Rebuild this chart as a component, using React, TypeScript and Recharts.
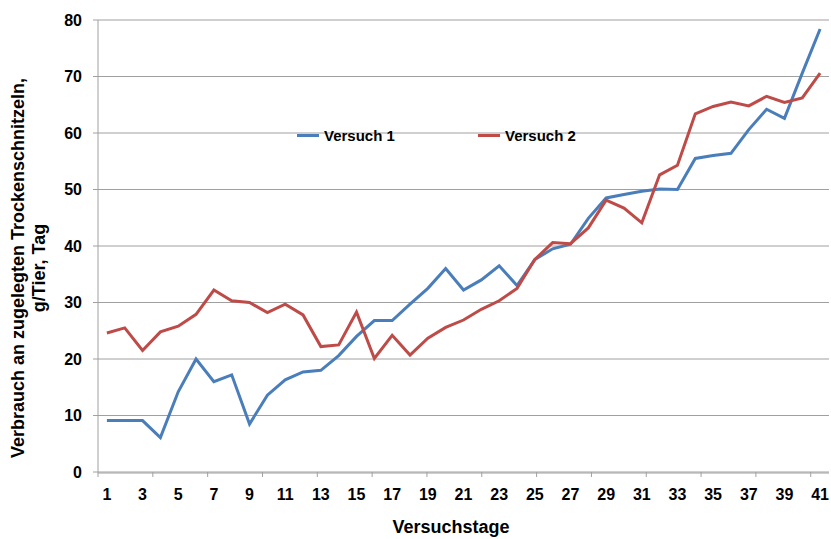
import { CartesianGrid, Legend, Line, LineChart, XAxis, YAxis } from "recharts";

const days = Array.from({ length: 41 }, (_, i) => String(i + 1));

const versuch1 = [
  9.1, 9.1, 9.1, 6.1, 14.2, 20, 16, 17.2, 8.5, 13.6,
  16.3, 17.7, 18, 20.6, 24, 26.8, 26.8, 29.7, 32.5, 36,
  32.2, 34, 36.5, 33, 37.6, 39.5, 40.3, 44.9, 48.5, 49.1,
  49.7, 50.1, 50, 55.5, 56, 56.4, 60.6, 64.2, 62.6, 70.6,
  78.4,
];

const versuch2 = [
  24.6, 25.5, 21.5, 24.8, 25.8, 27.9, 32.2, 30.3, 30, 28.2,
  29.7, 27.8, 22.2, 22.5, 28.3, 20.1, 24.2, 20.7, 23.7, 25.6,
  26.9, 28.8, 30.3, 32.5, 37.6, 40.6, 40.4, 43.2, 48.1, 46.7,
  44.1, 52.6, 54.3, 63.4, 64.7, 65.5, 64.8, 66.5, 65.4, 66.2,
  70.6,
];

const yTicks = [0, 10, 20, 30, 40, 50, 60, 70, 80];
// tick marks sit between categories, every third one
const boundaryTicks = [0, 3, 6, 9, 12, 15, 18, 21, 24, 27, 30, 33, 36, 39];

const data = days.map((day, i) => ({ day, v1: versuch1[i], v2: versuch2[i] }));

const font = "'Liberation Sans', Arial, sans-serif";
const blue = "#4a7ebb";
const red = "#be4b48";
const gridGray = "#a0a0a0";

function LegendBox({ payload }: any) {
  return (
    <div style={{ display: "flex", fontFamily: font, fontWeight: "bold", fontSize: 15, color: "#000" }}>
      {(payload || []).map((p: any) => (
        <div key={p.value} style={{ width: 181, display: "flex", alignItems: "center" }}>
          <span style={{ display: "inline-block", width: 22, height: 3, background: p.color, marginRight: 5 }} />
          <span>{p.value}</span>
        </div>
      ))}
    </div>
  );
}

function YTitle() {
  return (
    <g fontFamily={font} fontWeight="bold" fontSize={18} fill="#000">
      <text transform="translate(24,268) rotate(-90)" textAnchor="middle">
        Verbrauch an zugelegten Trockenschnitzeln,
      </text>
      <text transform="translate(45,268) rotate(-90)" textAnchor="middle">
        g/Tier, Tag
      </text>
    </g>
  );
}

function XTitle() {
  return (
    <text x={451} y={533} textAnchor="middle" fontFamily={font} fontWeight="bold" fontSize={18} fill="#000">
      Versuchstage
    </text>
  );
}

const NoTick = () => <g />;

export default function App() {
  return (
    <div style={{ position: "absolute", left: 0, top: 0, background: "#fff" }}>
      <LineChart width={831} height={539} data={data} margin={{ top: 20, right: 2, bottom: 0, left: 0 }}>
        <CartesianGrid vertical={false} stroke={gridGray} />
        <XAxis
          type="number"
          domain={[0, 41]}
          allowDataOverflow
          ticks={boundaryTicks}
          height={1}
          axisLine={false}
          tick={NoTick}
          tickSize={5}
          tickLine={{ stroke: gridGray }}
        />
        <XAxis
          xAxisId="days"
          dataKey="day"
          interval={1}
          height={66}
          padding={{ left: 8.9, right: 8.9 }}
          axisLine={{ stroke: gridGray }}
          tickLine={false}
          tickSize={5}
          tickMargin={11}
          tick={{ fontFamily: font, fontWeight: "bold", fontSize: 16, fill: "#000" }}
          label={<XTitle />}
        />
        <YAxis
          width={98}
          domain={[0, 80]}
          ticks={yTicks}
          axisLine={{ stroke: gridGray }}
          tickLine={{ stroke: gridGray }}
          tickSize={5}
          tickMargin={11}
          tick={{ fontFamily: font, fontWeight: "bold", fontSize: 16, fill: "#000" }}
          label={<YTitle />}
        />
        <Legend
          layout="horizontal"
          verticalAlign="middle"
          align="center"
          wrapperStyle={{ left: 297, top: 127, width: 400 }}
          content={<LegendBox />}
        />
        <Line xAxisId="days" type="linear" dataKey="v1" name="Versuch 1" stroke={blue} strokeWidth={3} dot={false} isAnimationActive={false} />
        <Line xAxisId="days" type="linear" dataKey="v2" name="Versuch 2" stroke={red} strokeWidth={3} dot={false} isAnimationActive={false} />
      </LineChart>
    </div>
  );
}
